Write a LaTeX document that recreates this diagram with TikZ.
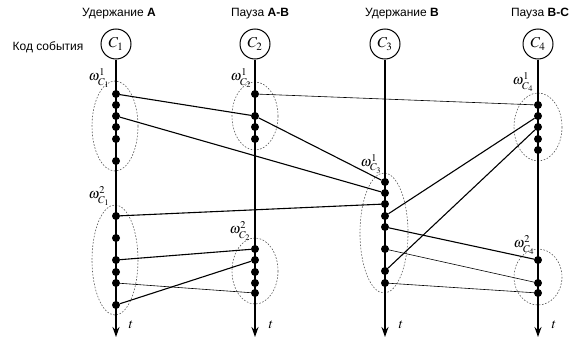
\documentclass[tikz,border=0pt]{standalone}
\usepackage{mathptmx}
\usepackage{fontspec}
\setmainfont{Liberation Sans}
\usetikzlibrary{arrows.meta}

\tikzset{
  event/.style={draw, circle, line width=1pt, minimum size=30pt, inner sep=0pt, font=\fontsize{15}{17}\selectfont},
  dot/.style={circle, fill, inner sep=0pt, minimum size=8pt},
  link/.style={line width=1.1pt},
  thinlink/.style={line width=0.6pt},
  group/.style={dash pattern=on 1.6pt off 1.6pt, gray!70!black, line width=0.6pt},
  axis/.style={line width=1.5pt, -{Stealth[length=10pt,width=7pt]}},
  title/.style={font=\fontsize{12}{14}\selectfont},
  mlabel/.style={inner sep=0pt, font=\fontsize{14}{16}\selectfont},
}

\begin{document}
\begin{tikzpicture}[x=1pt,y=-1pt]
  \useasboundingbox (0,0) rectangle (573,340);

  % заголовки
  \node[title] at (119,14) {Удержание \textbf{A}};
  \node[title] at (260,14) {Пауза \textbf{A-B}};
  \node[title] at (402,14) {Удержание \textbf{B}};
  \node[title] at (540,14) {Пауза \textbf{B-C}};
  \node[title] at (48,47) {Код события};

  % коды событий
  \node[event] (c1) at (116,44) {$C_1$};
  \node[event] (c2) at (255,44) {$C_2$};
  \node[event] (c3) at (385,44) {$C_3$};
  \node[event] (c4) at (538,44) {$C_4$};

  % группы (пунктирные овалы)
  \draw[group] (115,126) ellipse [x radius=23, y radius=45];
  \draw[group] (115,260) ellipse [x radius=23, y radius=55];
  \draw[group] (255,116) ellipse [x radius=23, y radius=34];
  \draw[group] (255,271) ellipse [x radius=23, y radius=33];
  \draw[group] (384,233) ellipse [x radius=24, y radius=60];
  \draw[group] (538,127) ellipse [x radius=24, y radius=34];
  \draw[group] (538,277) ellipse [x radius=24, y radius=28];

  % оси времени
  \coordinate (a-end) at (116,337);
  \coordinate (b-end) at (255,337);
  \coordinate (c-end) at (385,337);
  \coordinate (d-end) at (538,337);
  \draw[axis] (c1) -- (a-end);
  \draw[axis] (c2) -- (b-end);
  \draw[axis] (c3) -- (c-end);
  \draw[axis] (c4) -- (d-end);
  \node[mlabel] at (131,325) {$t$};
  \node[mlabel] at (271,325) {$t$};
  \node[mlabel] at (401,325) {$t$};
  \node[mlabel] at (554,325) {$t$};

  % метки групп
  \node[mlabel] at (99,78) {$\omega^1_{C_1}$};
  \node[mlabel] at (99,196) {$\omega^2_{C_1}$};
  \node[mlabel] at (241,78) {$\omega^1_{C_2}$};
  \node[mlabel] at (240,231) {$\omega^2_{C_2}$};
  \node[mlabel] at (371,164) {$\omega^1_{C_3}$};
  \node[mlabel] at (523,82) {$\omega^1_{C_4}$};
  \node[mlabel] at (524,245) {$\omega^2_{C_4}$};

  % события (точки)
  \foreach \y in {94,105,116,127,139,161,216,238,260,272,283,305}
    \node[dot] (a\y) at (116,\y) {};
  \foreach \y in {94,116,127,139,249,260,272,283,293}
    \node[dot] (b\y) at (255,\y) {};
  \foreach \y in {182,193,204,216,227,249,271,283}
    \node[dot] (c\y) at (385,\y) {};
  \foreach \y in {105,116,127,139,150,260,283,293}
    \node[dot] (d\y) at (538,\y) {};

  % связи
  \draw[link] (a94) -- (b116);
  \draw[link] (a116) -- (c193);
  \draw[link] (b116) -- (c182);
  \draw[thinlink] (b94) -- (d105);
  \draw[link] (a216) -- (c204);
  \draw[link] (c216) -- (d116);
  \draw[link] (c271) -- (d127);
  \draw[link] (c227) -- (d260);
  \draw[thinlink] (c249) -- (d283);
  \draw[thinlink] (c283) -- (d293);
  \draw[link] (a260) -- (b249);
  \draw[link] (a305) -- (b260);
  \draw[thinlink] (a283) -- (b293);
\end{tikzpicture}
\end{document}
